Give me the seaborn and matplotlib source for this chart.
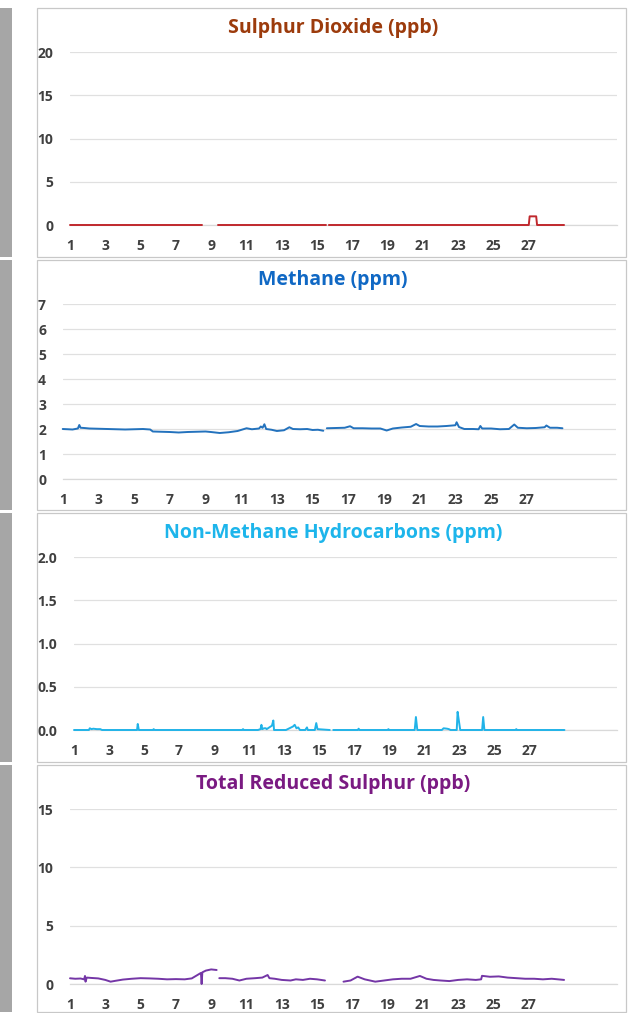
import numpy as np
import pandas as pd
import matplotlib
matplotlib.use("Agg")
import matplotlib.pyplot as plt
import seaborn as sns
from matplotlib.patches import Rectangle
from matplotlib.ticker import FormatStrFormatter

sns.set_theme(style="white")
plt.rcParams['font.family'] = ['Open Sans', 'DejaVu Sans']

nan = np.nan

# readings (day of month, value); nan marks a gap in the record
so2_day = [1.0, 8.48, 8.9, 9.4, 15.5, 15.6, 15.67, 27.0, 27.05, 27.42, 27.47, 29.0]
so2_val = [0, 0, nan, 0, 0, nan, 0, 0, 1.0, 1.0, 0, 0]

ch4_day = [1.0, 1.3, 1.55, 1.85, 1.93, 2.0, 2.2, 2.5, 3.0, 3.5, 4.0, 4.5, 5.0, 5.5, 5.9,
           6.05, 6.5, 7.0, 7.5, 8.0, 8.5, 9.0, 9.3, 9.8, 10.3, 10.8, 11.3, 11.6, 12.0,
           12.1, 12.2, 12.3, 12.4, 12.7, 13.0, 13.4, 13.7, 13.9, 14.3, 14.7, 15.0, 15.3,
           15.6, 15.7, 15.8, 16.3, 16.8, 17.1, 17.3, 17.8, 18.3, 18.8, 19.15, 19.5, 20.0,
           20.5, 20.8, 21.0, 21.5, 22.0, 22.5, 23.0, 23.07, 23.2, 23.5, 24.0, 24.3, 24.4,
           24.5, 25.0, 25.5, 26.0, 26.3, 26.5, 27.0, 27.5, 28.0, 28.1, 28.3, 28.7, 29.0]
ch4_val = [2.00, 1.99, 1.98, 2.02, 2.16, 2.05, 2.04, 2.02, 2.01, 2.00, 1.99, 1.98, 1.99, 2.00, 1.98,
           1.90, 1.89, 1.88, 1.86, 1.88, 1.89, 1.90, 1.88, 1.84, 1.87, 1.92, 2.03, 1.99, 2.02,
           2.10, 2.05, 2.19, 2.00, 1.97, 1.92, 1.95, 2.07, 2.00, 1.99, 2.00, 1.96, 1.97,
           1.93, nan, 2.03, 2.04, 2.05, 2.11, 2.03, 2.03, 2.02, 2.02, 1.94, 2.02, 2.06,
           2.09, 2.20, 2.12, 2.10, 2.10, 2.12, 2.15, 2.27, 2.08, 2.00, 2.00, 1.99, 2.12,
           2.02, 2.02, 1.99, 2.00, 2.18, 2.05, 2.03, 2.04, 2.07, 2.14, 2.05, 2.05, 2.03]

nmhc_day = [1.0, 1.85, 1.9, 2.0, 2.1, 2.3, 2.5, 2.6, 4.6, 4.64, 4.7, 5.5, 5.55, 5.6,
            10.6, 10.65, 10.7, 11.5, 11.65, 11.7, 11.75, 11.85, 11.95, 12.0, 12.3, 12.38,
            12.42, 13.1, 13.3, 13.5, 13.6, 13.7, 13.8, 13.9, 14.2, 14.3, 14.35, 14.75,
            14.83, 14.9, 15.6, 15.7, 15.8, 17.2, 17.25, 17.3, 18.9, 18.95, 19.0, 20.45,
            20.52, 20.6, 22.0, 22.1, 22.3, 22.4, 22.5, 22.85, 22.9, 22.97, 23.05, 24.3,
            24.36, 24.43, 26.2, 26.25, 26.3, 29.0]
nmhc_val = [0.0, 0.0, 0.02, 0.01, 0.015, 0.01, 0.01, 0.0, 0.0, 0.07, 0.0, 0.0, 0.01, 0.0,
            0.0, 0.01, 0.0, 0.0, 0.01, 0.06, 0.01, 0.02, 0.02, 0.01, 0.05, 0.11,
            0.0, 0.0, 0.02, 0.04, 0.06, 0.02, 0.03, 0.0, 0.0, 0.03, 0.0, 0.0,
            0.08, 0.01, 0.0, nan, 0.0, 0.0, 0.015, 0.0, 0.0, 0.01, 0.0, 0.0,
            0.15, 0.0, 0.0, 0.02, 0.015, 0.01, 0.0, 0.0, 0.21, 0.11, 0.0, 0.0,
            0.15, 0.0, 0.0, 0.01, 0.0, 0.0]

trs_day = [1.0, 1.3, 1.6, 1.8, 1.85, 1.88, 1.95, 2.2, 2.6, 3.0, 3.3, 3.6, 4.0, 4.5, 5.0,
           5.5, 6.0, 6.5, 7.0, 7.5, 7.9, 8.2, 8.42, 8.46, 8.5, 8.7, 9.0, 9.31, 9.4, 9.46,
           9.8, 10.2, 10.6, 11.0, 11.5, 11.9, 12.2, 12.3, 12.6, 13.0, 13.5, 13.8, 14.2,
           14.6, 15.0, 15.45, 16.0, 16.5, 16.9, 17.3, 17.7, 18.3, 18.8, 19.3, 19.8, 20.3,
           20.83, 21.2, 21.6, 22.0, 22.5, 23.0, 23.5, 24.0, 24.3, 24.35, 24.8, 25.3, 25.8,
           26.3, 26.8, 27.3, 27.8, 28.3, 29.0]
trs_val = [0.49, 0.45, 0.47, 0.40, 0.69, 0.20, 0.55, 0.52, 0.48, 0.35, 0.20, 0.28, 0.38, 0.45, 0.50,
           0.48, 0.45, 0.40, 0.42, 0.40, 0.48, 0.75, 0.95, 0.0, 1.00, 1.15, 1.25, 1.20, nan, 0.50,
           0.50, 0.45, 0.30, 0.45, 0.50, 0.55, 0.77, 0.50, 0.45, 0.35, 0.30, 0.40, 0.35,
           0.45, 0.40, 0.30, nan, 0.20, 0.30, 0.63, 0.40, 0.20, 0.30, 0.40, 0.45, 0.45,
           0.69, 0.45, 0.35, 0.30, 0.25, 0.35, 0.40, 0.35, 0.40, 0.70, 0.62, 0.65, 0.55,
           0.50, 0.45, 0.45, 0.40, 0.45, 0.35]

tick_days = list(range(1, 33))
tick_text = [str(d) if d % 2 == 1 and d <= 27 else "" for d in tick_days]

W, H = 628, 1013
fig = plt.figure(figsize=(W / 100, H / 100), dpi=100)


def frac(left, top, right, bottom):
    return [left / W, 1 - bottom / H, (right - left) / W, (bottom - top) / H]


panels = [
    ("Sulphur Dioxide (ppb)", so2_day, so2_val, "#C0282D", "#9C3B0C", [0, 5, 10, 15, 20], "%.0f",
     (70, 52, 617, 225), (8, 257), 28),
    ("Methane (ppm)", ch4_day, ch4_val, "#2372BD", "#1068C4", list(range(8)), "%.0f",
     (62.7, 304, 616, 479), (260, 510), 280),
    ("Non-Methane Hydrocarbons (ppm)", nmhc_day, nmhc_val, "#21B3E8", "#1DB5EB", [0, 0.5, 1.0, 1.5, 2.0], "%.1f",
     (74, 557, 617, 730), (513, 762), 533),
    ("Total Reduced Sulphur (ppb)", trs_day, trs_val, "#7436A6", "#7A1A82", [0, 5, 10, 15], "%.0f",
     (70, 809, 617, 984), (765, 1012), 784),
]

for title, day, val, lcol, tcol, yticks, fmt, box, frame, ty in panels:
    top, bot = frame
    fig.add_artist(Rectangle((0, 1 - bot / H), 12 / W, (bot - top) / H, transform=fig.transFigure,
                             facecolor="#A6A6A6", edgecolor="none"))
    fig.add_artist(Rectangle((37 / W, 1 - bot / H), (626 - 37) / W, (bot - top) / H, transform=fig.transFigure,
                             fill=False, edgecolor="#C8C8C8", lw=0.9))

    ax = fig.add_axes(frac(*box))
    df = pd.DataFrame({"day": day, "val": val})
    df["seg"] = df["val"].isna().cumsum()
    df = df.dropna()
    sns.lineplot(data=df, x="day", y="val", units="seg", estimator=None, sort=False,
                 color=lcol, lw=1.4, ax=ax)
    for ln in ax.lines:
        ln.set_clip_on(False)
        ln.set_zorder(4)

    ax.set_xlim(1, 32)
    ax.set_ylim(0, yticks[-1])
    ax.set_yticks(yticks)
    ax.yaxis.set_major_formatter(FormatStrFormatter(fmt))
    ax.set_xticks(tick_days)
    ax.set_xticklabels(tick_text)
    ax.set_xlabel("")
    ax.set_ylabel("")
    ax.yaxis.grid(True, color="#E0E0E0", lw=0.9)
    ax.set_axisbelow(True)
    for s in ["top", "right", "left"]:
        ax.spines[s].set_visible(False)
    ax.spines["bottom"].set_color("#D9D9D9")
    ax.spines["bottom"].set_linewidth(0.9)
    ax.tick_params(axis="x", direction="out", length=4, width=0.8, color="#D9D9D9", pad=6,
                   labelsize=10, labelcolor="#404040")
    ax.tick_params(axis="y", length=0, pad=12, labelsize=10, labelcolor="#404040")
    for lbl in ax.get_xticklabels() + ax.get_yticklabels():
        lbl.set_fontweight("bold")

    fig.text(333 / W, 1 - ty / H, title, ha="center", va="center", fontsize=14,
             fontweight="bold", color=tcol)

fig.savefig("out.png", dpi=100)
